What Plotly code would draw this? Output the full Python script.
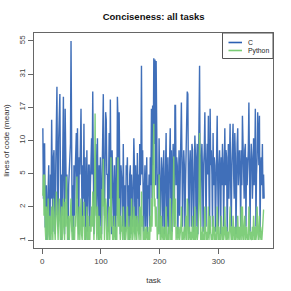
import numpy as np
import plotly.graph_objects as go

# ---- data ----
c_values = [
    12, 3, 9, 9, 1.5, 1.5, 4, 1, 2, 5, 6, 1.2, 1, 5, 3, 14, 4, 1.3, 7, 8,
    3, 1.2, 6, 21, 25, 4, 1.5, 10, 20, 22, 5, 1, 5, 2, 8, 21, 4, 1.2, 17, 6,
    3, 5, 1.5, 1, 4, 6, 6, 9, 55, 6, 1.3, 4, 1, 6, 2, 5, 10, 11, 3, 12,
    4, 1.2, 7, 5, 9, 17, 5, 1.5, 6, 3, 13, 2, 7, 1, 3, 8, 1.3, 5, 6, 6,
    1.5, 4, 7, 10, 5, 23, 6, 1.2, 4, 6, 9, 2, 5, 10, 3, 1, 6, 1.5, 7, 3,
    1.2, 5, 22, 22, 4, 2, 6, 16, 14, 5, 5, 1.3, 7, 11, 3, 20, 4, 1.2, 8, 5,
    5, 1.5, 6, 3, 1, 7, 2, 21, 14, 3, 16, 5, 1.2, 6, 5, 4, 1.5, 9, 3, 1,
    4, 1.3, 6, 5, 7, 2, 4, 1, 5, 6, 1.2, 5, 3, 1.5, 4, 10, 6, 1.2, 6, 4,
    1.5, 7.6, 3, 5, 1.2, 9, 4, 6, 36, 5, 8, 3, 1.3, 4, 6, 1.5, 5, 7, 1.2, 4,
    3, 5, 1.5, 7, 4, 17, 3, 18, 6, 41, 9, 40, 4, 39, 7, 3, 5, 1.3, 10, 4,
    1.2, 4, 7, 5, 1.5, 5.5, 8, 1.2, 4, 6, 11, 1.5, 5, 7, 1.2, 6, 7, 12, 3, 8,
    1.3, 5, 9, 6, 1.5, 18, 18, 4, 7, 6, 1.2, 5, 8, 2, 4, 6, 19, 7, 1.5, 5,
    8, 6, 1.3, 4, 7, 9, 23, 22, 4, 1.2, 6, 8, 5, 1.5, 9, 8, 3, 1.3, 5, 10.5,
    7, 1.5, 6, 9, 1.2, 5, 8, 36, 4, 1.5, 7, 9, 5, 1.3, 6, 8, 16, 4, 1.5, 6,
    9, 5, 15, 4, 1.2, 17, 6, 8, 5, 1.5, 11, 4, 7, 6, 1.3, 5, 9, 15, 4, 1.5,
    6, 8, 5, 1.2, 7, 4, 9, 6, 1.5, 5, 12, 4, 8, 7, 1.3, 5, 9, 3, 6, 13,
    4, 1.5, 6, 8, 13, 5, 3, 11, 7, 1.2, 7, 9, 12, 4, 6, 8, 5, 1.5, 8, 4,
    15, 7, 6, 3, 8, 9, 1.5, 7, 4, 6, 8, 19, 5, 1.3, 6, 9, 7, 3, 5, 10,
    4, 6, 17, 1.5, 5, 7, 16, 8, 6, 15, 1.3, 5, 7, 4, 9, 3, 5, 3,
]
python_values = [
    3.2, 5, 2, 5, 1.5, 1, 2.5, 1.2, 1, 3, 1.5, 1, 2, 1.3, 1, 2.5, 1.5, 1, 3, 2,
    1.2, 1, 2, 3.5, 2.5, 1.5, 1, 2, 3, 2, 1, 1.3, 2.5, 1, 2, 3, 1.5, 1, 2.8, 1.5,
    4.8, 1.5, 1, 1.3, 2, 1, 1.5, 2.5, 3, 1.5, 1, 2, 1, 1.5, 1, 2, 1.5, 3, 4.8, 2,
    1, 1.5, 2.5, 1, 2, 3, 1.2, 1, 2, 1.5, 2.8, 1, 1.5, 1, 1.3, 2.5, 1, 2, 1, 1.5,
    1, 2, 1.3, 2.5, 1.5, 3.5, 2, 1, 2.5, 15.6, 3, 1.5, 1, 2.5, 1.5, 1, 2, 1, 1.5, 1.3,
    1, 3.7, 2.5, 6.8, 1.5, 1, 2, 3, 2.5, 1, 1.5, 1, 2, 2.5, 1, 3, 7, 1.5, 2, 1,
    1.5, 1, 2, 1.3, 1, 1.5, 1, 3.5, 7, 1.5, 3, 2, 1, 2, 1.3, 1.5, 1, 2.5, 1.5, 1,
    1.5, 1, 1.3, 2, 2.5, 1, 1.5, 1, 1.2, 2, 1, 3, 1.5, 1, 1.3, 2.5, 1.5, 1, 2, 1.5,
    1, 2, 1.5, 1.3, 1, 2.5, 1.5, 1, 3.5, 1.5, 2, 1, 1.3, 1, 1.5, 1, 1.2, 1.5, 1, 1.3,
    1, 1.5, 1, 2, 1.3, 3, 1.5, 4, 5.5, 13, 2.5, 3, 1.5, 2.5, 2, 1, 1.5, 1.2, 5, 1.5,
    1, 1.3, 2, 1, 1.5, 1.2, 1, 1.5, 1, 1.3, 2.5, 1, 1.2, 1, 1.5, 1, 2, 3, 1, 1.3,
    1, 1.5, 3, 7.1, 1.5, 2.5, 3, 1, 1.3, 1.5, 1, 1.2, 1.5, 1, 1.2, 1.5, 2.5, 1, 1.3, 1,
    1.2, 1.5, 1, 1.3, 2, 1, 3, 2.5, 1, 1.2, 1.5, 1, 1.3, 1, 1.2, 2, 1, 1.5, 1, 2.5,
    1, 1.3, 1.5, 1, 1.2, 2, 3, 11, 1.5, 1, 1.3, 1, 1.5, 1, 1.2, 1, 2.5, 1.5, 1, 1.3,
    1, 1.2, 2.5, 1, 1.5, 2, 1.3, 1, 1.2, 1, 2, 1.3, 1, 1.5, 1, 1.2, 1, 2.5, 1.3, 1,
    1.5, 1, 1.2, 1, 2, 1.3, 1, 1.5, 1, 1.2, 2.5, 1.3, 1, 1.5, 1, 1.2, 1.3, 1, 1.5, 2.5,
    1.3, 1, 1.5, 1, 2, 1.2, 1, 1.5, 1, 1.3, 1.5, 1, 2, 1.2, 1, 1.5, 1, 1.3, 2.5, 1,
    2.5, 1.3, 1, 1.5, 2, 1, 1.3, 1.5, 1, 1.2, 1, 2.5, 1.5, 1, 1.3, 1.2, 1, 1.5, 1, 2,
    1.3, 1, 1.5, 1, 1.2, 2.5, 1.5, 1, 1.3, 2, 1, 1.5, 1.2, 1, 1.3, 2, 2.3, 2.3,
]
y_tick_labels = ["1", "2", "5", "10", "17", "31", "55"]
x_tick_values = [0, 100, 200, 300]
series_names = ["C", "Python"]
series_colors = ["rgb(44,96,178)", "rgb(122,204,118)"]

tasks = np.arange(1, len(c_values) + 1)
c_t = np.log1p(np.array(c_values, dtype=float))
py_t = np.log1p(np.array(python_values, dtype=float))

lo = float(min(c_t.min(), py_t.min()))
hi = float(max(c_t.max(), py_t.max()))
ytickvals = np.linspace(lo, hi, len(y_tick_labels))
pad = 0.04 * (hi - lo)
xpad = 0.04 * (tasks[-1] - tasks[0])

font = "Liberation Sans, Arial, Helvetica, sans-serif"
axis_col = "#666666"

W, H = 291, 291
ML, MR, MT, MB = 34, 18, 33, 43
PW, PH = W - ML - MR, H - MT - MB

fig = go.Figure()
fig.add_trace(go.Scatter(x=tasks, y=c_t, mode="lines", name=series_names[0],
                         line=dict(color=series_colors[0], width=1.4), opacity=0.9))
fig.add_trace(go.Scatter(x=tasks, y=py_t, mode="lines", name=series_names[1],
                         line=dict(color=series_colors[1], width=1.4), opacity=0.95))

# small boxed legend at the top-right corner of the plot, as in the reference
def px_x(x):
    return (x - ML) / PW

def px_y(y):
    return 1 - (y - MT) / PH

shapes = [dict(type="rect", xref="paper", yref="paper",
               x0=px_x(222.5), x1=1, y0=px_y(58.5), y1=1,
               line=dict(color="#555", width=1), fillcolor="white", layer="above")]
annotations = []
for i, (name, col) in enumerate(zip(series_names, series_colors)):
    yy = 42.5 + 8 * i
    shapes.append(dict(type="line", xref="paper", yref="paper",
                       x0=px_x(228.5), x1=px_x(242), y0=px_y(yy), y1=px_y(yy),
                       line=dict(color=col, width=1.6), layer="above"))
    annotations.append(dict(text=name, xref="paper", yref="paper",
                            x=px_x(246), y=px_y(yy), xanchor="left", yanchor="middle",
                            showarrow=False, font=dict(size=6.8, color="#222")))

fig.update_layout(
    width=W, height=H,
    margin=dict(l=ML, r=MR, t=MT, b=MB, autoexpand=False),
    paper_bgcolor="white", plot_bgcolor="white",
    font=dict(family=font, size=8, color="#222"),
    title=dict(text="<b>Conciseness: all tasks</b>", x=0.528, xanchor="center",
               y=1 - 17 / H, yanchor="middle", font=dict(size=9.5, color="#111")),
    showlegend=False,
    shapes=shapes,
    annotations=annotations,
)
fig.update_xaxes(range=[tasks[0] - xpad, tasks[-1] + xpad], tickvals=x_tick_values,
                 showgrid=False, zeroline=False, showline=True, mirror=True,
                 linecolor=axis_col, linewidth=1, ticks="outside", ticklen=5,
                 tickcolor=axis_col, tickfont=dict(size=8, color="#444"),
                 title=dict(text="task", font=dict(size=8, color="#333"), standoff=12))
fig.update_yaxes(range=[lo - pad, hi + pad], tickvals=ytickvals, ticktext=y_tick_labels,
                 tickangle=-90, showgrid=False, zeroline=False, showline=True, mirror=True,
                 linecolor=axis_col, linewidth=1, ticks="outside", ticklen=5,
                 tickcolor=axis_col, tickfont=dict(size=8, color="#444"),
                 title=dict(text="lines of code (mean)", font=dict(size=8, color="#333"),
                            standoff=6))

fig.write_html("out.html", config={"displayModeBar": False},
               post_script="document.body.style.margin='0';document.body.style.padding='0';"
                           "document.body.style.overflow='hidden';")
